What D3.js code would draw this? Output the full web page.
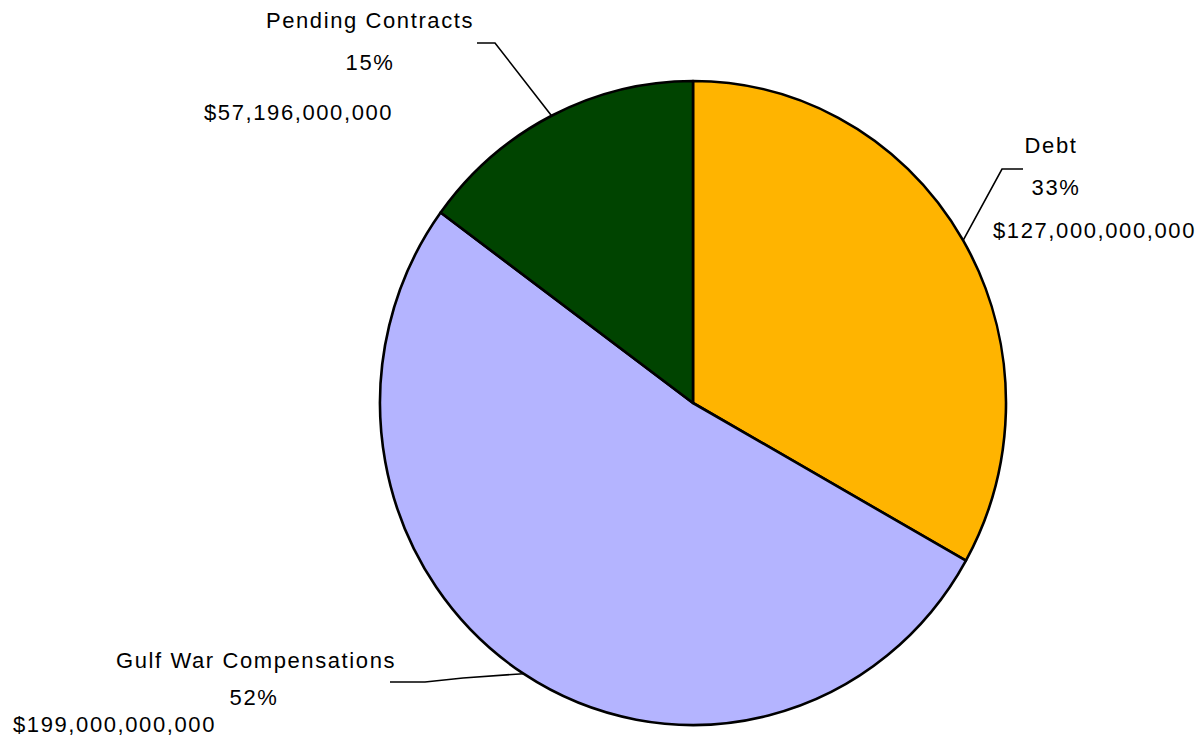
<!DOCTYPE html>
<html>
<head>
<meta charset="utf-8">
<script src="https://cdn.jsdelivr.net/npm/d3@7"></script>
<style>
  html, body { margin: 0; padding: 0; background: #ffffff; }
  svg { display: block; }
  text { font-family: "Liberation Sans", Arial, sans-serif; font-size: 22px; fill: #000; letter-spacing: 1.6px; }
</style>
</head>
<body>
<svg id="chart" width="1200" height="740"></svg>
<script>
// Slice data (US dollars)
const categories = ["Debt", "Gulf War Compensations", "Pending Contracts"];
const amounts = [127000000000, 199000000000, 57196000000];
const percentLabels = ["33%", "52%", "15%"];
const amountLabels = ["$127,000,000,000", "$199,000,000,000", "$57,196,000,000"];
const colors = ["#FFB400", "#B4B4FF", "#004400"];

const svg = d3.select("#chart");
const cx = 693, cy = 403, rx = 313, ry = 322;

const pie = d3.pie().sort(null).value(d => d)(amounts);
const arc = d3.arc().innerRadius(0).outerRadius(rx);

const g = svg.append("g")
  .attr("transform", `translate(${cx},${cy}) scale(1,${ry / rx})`);

g.selectAll("path")
  .data(pie)
  .join("path")
  .attr("d", arc)
  .attr("fill", (d, i) => colors[i])
  .attr("stroke", "#000")
  .attr("stroke-width", 2.6)
  .attr("stroke-linejoin", "round")
  .attr("vector-effect", "non-scaling-stroke");

// point on the pie edge at a slice's middle angle
function edgePoint(d) {
  const a = (d.startAngle + d.endAngle) / 2;
  return [cx + rx * Math.sin(a), cy - ry * Math.cos(a)];
}

// label blocks: leader elbow points and line positions
const labelLayout = [
  { leader: [[1002, 169], [1023, 169]],
    lines: [[1051, 153, "middle"], [1056, 195, "middle"], [993, 238, "start"]] },
  { leader: [[463, 678], [425, 682], [390, 682]],
    lines: [[256, 668, "middle"], [254, 705, "middle"], [13, 732, "start"]] },
  { leader: [[495, 43], [477, 43]],
    lines: [[370, 28, "middle"], [370, 70, "middle"], [204, 120, "start"]] }
];

const line = d3.line();
pie.forEach((d, i) => {
  const lay = labelLayout[i];
  svg.append("path")
    .attr("d", line([edgePoint(d), ...lay.leader]))
    .attr("fill", "none")
    .attr("stroke", "#000")
    .attr("stroke-width", 1.6);

  const texts = [categories[i], percentLabels[i], amountLabels[i]];
  texts.forEach((t, j) => {
    const [x, y, anchor] = lay.lines[j];
    svg.append("text")
      .attr("x", x)
      .attr("y", y)
      .attr("text-anchor", anchor)
      .text(t);
  });
});
</script>
</body>
</html>
